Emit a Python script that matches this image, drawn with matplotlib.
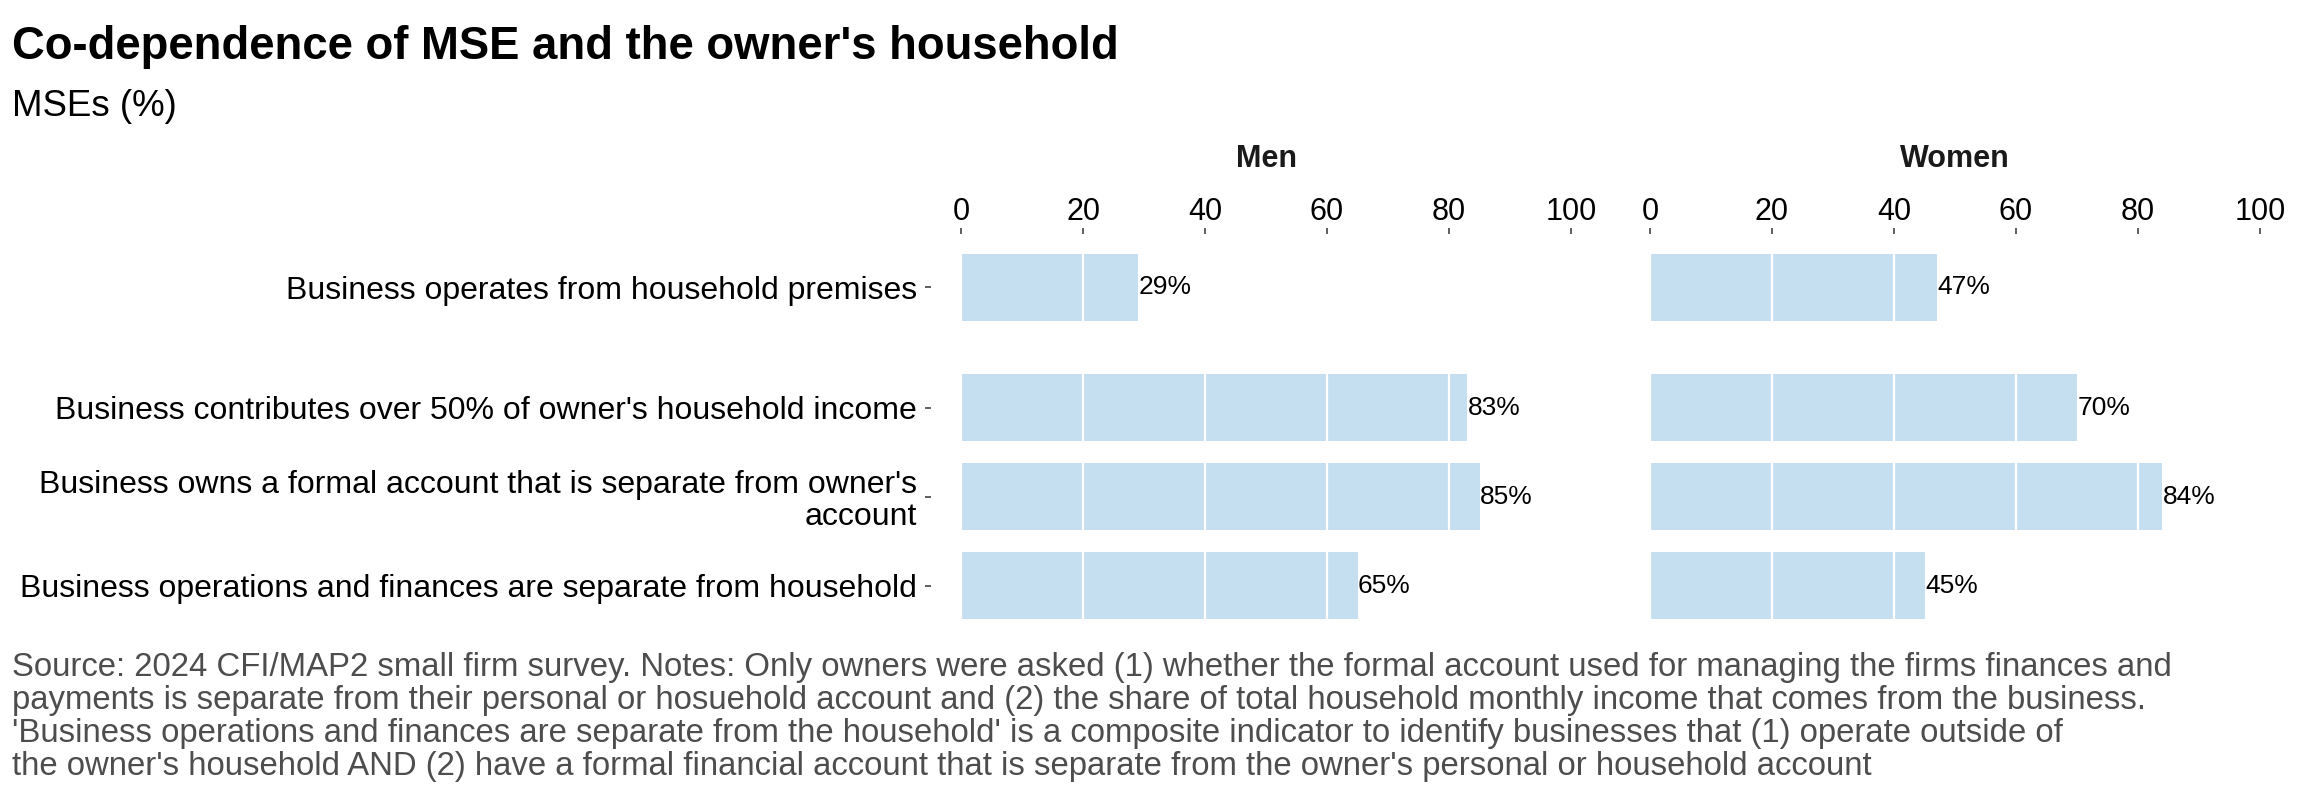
import numpy as np
import matplotlib
matplotlib.use("Agg")
import matplotlib.pyplot as plt

plt.rcParams['font.family'] = ['Liberation Sans', 'DejaVu Sans']

# Datos
categories = [
    "Business operates from household premises",
    "Business contributes over 50% of owner's household income",
    "Business owns a formal account that is separate from owner's\naccount",
    "Business operations and finances are separate from household",
]
men = [29, 83, 85, 65]
women = [47, 70, 84, 45]
panels = ["Men", "Women"]
x_ticks = [0, 20, 40, 60, 80, 100]

title = "Co-dependence of MSE and the owner's household"
subtitle = "MSEs (%)"
source_lines = [
    "Source: 2024 CFI/MAP2 small firm survey. Notes: Only owners were asked (1) whether the formal account used for managing the firms finances and",
    "payments is separate from their personal or hosuehold account and (2) the share of total household monthly income that comes from the business.",
    "'Business operations and finances are separate from the household' is a composite indicator to identify businesses that (1) operate outside of",
    "the owner's household AND (2) have a formal financial account that is separate from the owner's personal or household account",
]

W, H = 2304, 806
fig = plt.figure(figsize=(W / 100, H / 100), dpi=100)

# posiciones de filas (la primera separada un poco mas)
gap = 0.35
ypos = np.array([3 + gap, 2, 1, 0], dtype=float)

bar_color = "#C6DFF0"
tick_color = "#333333"


def px_rect(x0, x1, ytop, ybot):
    return [x0 / W, 1 - ybot / H, (x1 - x0) / W, (ybot - ytop) / H]


axes = [
    fig.add_axes(px_rect(930.5, 1601.5, 234, 639)),
    fig.add_axes(px_rect(1619.5, 2290.5, 234, 639)),
]

for i, (ax, vals, name) in enumerate(zip(axes, [men, women], panels)):
    ax.barh(ypos, vals, height=0.75, color=bar_color, zorder=1)
    for t in x_ticks:
        ax.axvline(t, color="white", lw=1.6, zorder=2)
    for y, v in zip(ypos, vals):
        ax.text(v + 0.1, y, f"{v}%", va="center", ha="left", fontsize=19,
                color="black", zorder=3)
    ax.set_xlim(-5, 105)
    ax.set_ylim(-0.6, ypos.max() + 0.6)
    ax.xaxis.tick_top()
    ax.set_xticks(x_ticks)
    ax.set_xticklabels([str(t) for t in x_ticks])
    ax.tick_params(axis="x", length=4.3, width=1.1, color=tick_color,
                   labelsize=22, labelcolor="black", pad=1)
    for s in ax.spines.values():
        s.set_visible(False)
    if i == 0:
        ax.set_yticks(ypos)
        ax.set_yticklabels(categories, linespacing=1.1)
        ax.tick_params(axis="y", length=4.3, width=1.1, color=tick_color,
                       labelsize=23, labelcolor="black", pad=5.5)
    else:
        ax.set_yticks([])
    ax.text(0.5, 1 + 75 / 405, name, transform=ax.transAxes, ha="center",
            va="center", fontsize=22, fontweight="bold", color="#1A1A1A")

fig.text(12 / W, 1 - 59 / H, title, fontsize=32.8, fontweight="bold",
         ha="left", va="baseline", color="black")
fig.text(12 / W, 1 - 116 / H, subtitle, fontsize=26.4, ha="left",
         va="baseline", color="black")
for k, line in enumerate(source_lines):
    fig.text(12 / W, 1 - (676 + 33 * k) / H, line, fontsize=23.7,
             ha="left", va="baseline", color="#4D4D4D")

fig.savefig("out.png", dpi=100)
